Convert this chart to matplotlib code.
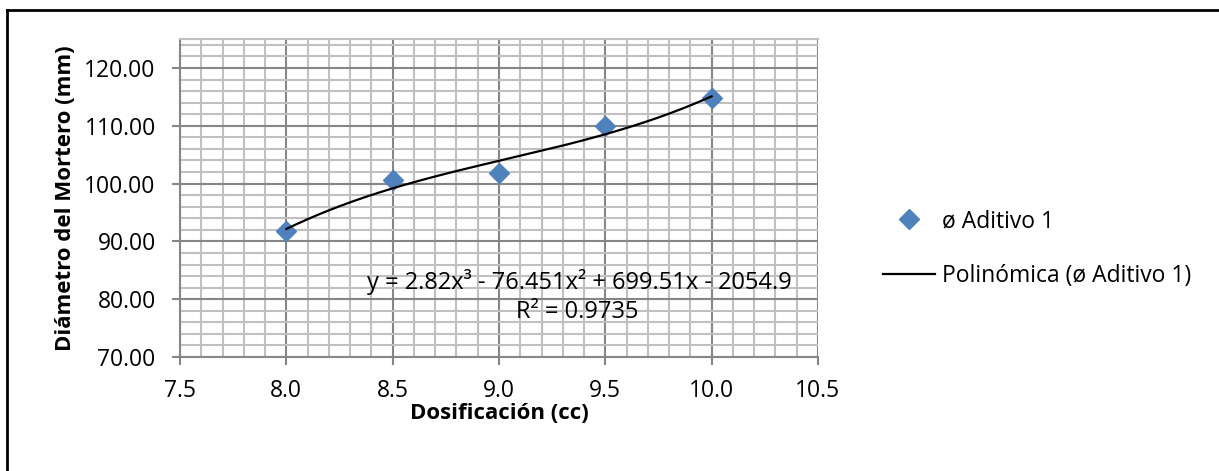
import numpy as np
import matplotlib
matplotlib.use("Agg")
import matplotlib.pyplot as plt
from matplotlib.lines import Line2D
from matplotlib.ticker import MultipleLocator

plt.rcParams['font.family'] = ['Open Sans', 'DejaVu Sans']

dosis = [8.0, 8.5, 9.0, 9.5, 10.0]
diametro = [91.8, 100.6, 101.9, 110.0, 114.8]
coef = [2.82, -76.451, 699.51, -2054.9]  # trendline shown in the chart
r2 = 0.9735

fig = plt.figure(figsize=(12.19, 4.71), dpi=100)
ax = fig.add_axes([0.1477, 0.242, 0.5233, 0.675])

xs = np.linspace(min(dosis), max(dosis), 200)
ax.plot(dosis, diametro, linestyle="none", marker="D", markersize=10,
        color="#4F81BD", label="ø Aditivo 1", zorder=3)
ax.plot(xs, np.polyval(coef, xs), color="black", lw=1.6,
        label="Polinómica (ø Aditivo 1)", zorder=4)

ax.set_xlim(7.5, 10.5)
ax.set_ylim(70, 125)
ax.xaxis.set_minor_locator(MultipleLocator(0.1))
ax.yaxis.set_minor_locator(MultipleLocator(2))
xt = [7.5, 8.0, 8.5, 9.0, 9.5, 10.0, 10.5]
yt = [70, 80, 90, 100, 110, 120]
ax.set_xticks(xt)
ax.set_xticklabels([f"{v:.1f}" for v in xt])
ax.set_yticks(yt)
ax.set_yticklabels([f"{v:.2f}" for v in yt])

ax.grid(which="minor", color="#C0C0C0", lw=1.5, zorder=0)
ax.grid(which="major", color="#868686", lw=1.5, zorder=1)
ax.set_axisbelow(True)
ax.spines["right"].set_visible(False)
ax.spines["top"].set_color("#C0C0C0")
ax.spines["top"].set_linewidth(1.5)
for s in ["left", "bottom"]:
    ax.spines[s].set_color("#868686")
    ax.spines[s].set_linewidth(1.5)
ax.tick_params(which="major", length=6, width=1.5, color="#868686",
               labelsize=16.5)
ax.tick_params(axis="x", pad=10)
ax.tick_params(axis="y", pad=11.5)
ax.tick_params(which="minor", length=0)

ax.set_xlabel("Dosificación (cc)", fontsize=16, fontweight="bold", labelpad=0)
ax.set_ylabel("Diámetro del Mortero (mm)", fontsize=16, fontweight="bold", labelpad=6)

ax.text(9.38, 83.0, "y = 2.82x³ - 76.451x² + 699.51x - 2054.9",
        ha="center", va="center", fontsize=17)
ax.text(9.37, 77.8, f"R² = {r2}", ha="center", va="center", fontsize=17)

ax.legend(loc="center left", bbox_to_anchor=(1.07, 0.34), frameon=False,
          fontsize=16.5, handlelength=2.25, handletextpad=0.3, labelspacing=1.35)

fig.add_artist(Line2D([7 / 1219, 7 / 1219], [1 - 10 / 471, -0.1], color="black", lw=2))
fig.add_artist(Line2D([7 / 1219, 1.1], [1 - 10 / 471, 1 - 10 / 471], color="black", lw=2))

fig.savefig("out.png", dpi=100)
